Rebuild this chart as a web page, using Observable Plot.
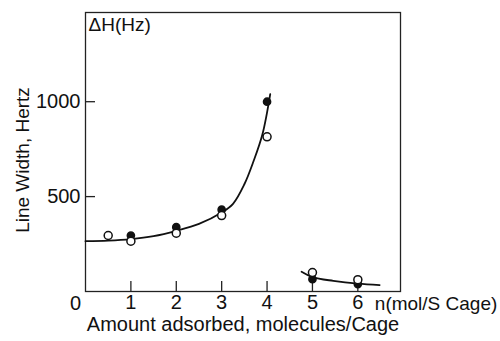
<!DOCTYPE html>
<html>
<head>
<meta charset="utf-8">
<script src="https://cdn.jsdelivr.net/npm/d3@7"></script>
<script src="https://cdn.jsdelivr.net/npm/@observablehq/plot@0.6"></script>
<style>
  html, body { margin: 0; padding: 0; background: #fff; }
  #chart svg { display: block; }
</style>
</head>
<body>
<div id="chart"></div>
<script>
// Open circles
const openX = [0.5, 1, 2, 3, 4, 5, 6];
const openY = [295, 265, 307, 400, 815, 100, 62];
// Filled circles
const filledX = [1, 2, 3, 4, 5, 6];
const filledY = [295, 339, 431, 1000, 65, 39];
// Hand-drawn fitted curves
const curve1X = [0, 0.5, 1, 1.5, 2, 2.5, 3, 3.25, 3.5, 3.7, 3.9, 4.07];
const curve1Y = [265, 268, 276, 292, 320, 356, 416, 462, 565, 685, 830, 1040];
const curve2X = [4.76, 5, 5.46, 6, 6.48];
const curve2Y = [104, 76, 56, 41, 34];
// Ticks
const xTicks = [1, 2, 3, 4, 5, 6];
const yTicks = [500, 1000];

const openData = openX.map((x, i) => ({x, y: openY[i]}));
const filledData = filledX.map((x, i) => ({x, y: filledY[i]}));
const c1 = curve1X.map((x, i) => ({x, y: curve1Y[i]}));
const c2 = curve2X.map((x, i) => ({x, y: curve2Y[i]}));

const font = "'Liberation Sans', Arial, sans-serif";

const chart = Plot.plot({
  width: 500,
  height: 341,
  marginLeft: 85,
  marginRight: 100,
  marginTop: 12,
  marginBottom: 50,
  style: {fontFamily: font, background: "#fff", color: "#111"},
  x: {domain: [0, 6.94], axis: null},
  y: {domain: [0, 1470], axis: null},
  marks: [
    Plot.frame({stroke: "#222", strokeWidth: 1.3}),
    Plot.tickX(xTicks, {x: d => d, insetTop: 269, stroke: "#222", strokeWidth: 1.3}),
    Plot.tickY(yTicks, {y: d => d, insetRight: 305, stroke: "#222", strokeWidth: 1.3}),
    Plot.axisX({ticks: xTicks, tickSize: 0, tickPadding: 3, fontSize: 20, anchor: "bottom", label: null, tickFormat: d => String(d)}),
    Plot.axisY({ticks: yTicks, tickSize: 0, tickPadding: 5, fontSize: 20, anchor: "left", label: null, tickFormat: d => String(d)}),
    Plot.text([0], {x: 0, y: 0, text: () => "0", dx: -10, dy: 12, fontSize: 20, textAnchor: "middle"}),
    Plot.text(["n(mol/S Cage)"], {x: 6, y: 0, text: d => d, dx: 17, dy: 12, fontSize: 19, textAnchor: "start"}),
    Plot.text(["ΔH(Hz)"], {frameAnchor: "top-left", text: d => d, dx: 3, dy: 5, fontSize: 19, textAnchor: "start"}),
    Plot.line(c1, {x: "x", y: "y", curve: "catmull-rom", stroke: "#111", strokeWidth: 1.8}),
    Plot.line(c2, {x: "x", y: "y", curve: "catmull-rom", stroke: "#111", strokeWidth: 1.8}),
    Plot.dot(filledData, {x: "x", y: "y", r: 3.6, fill: "#111", stroke: "#111"}),
    Plot.dot(openData, {x: "x", y: "y", r: 4, fill: "#fff", stroke: "#111", strokeWidth: 1.5}),
    Plot.text(["Amount adsorbed, molecules/Cage"], {frameAnchor: "bottom", text: d => d, dy: 39, fontSize: 20, textAnchor: "middle"}),
    Plot.text(["Line Width, Hertz"], {frameAnchor: "left", text: d => d, dx: -63, dy: 8, rotate: -90, fontSize: 19, textAnchor: "middle"})
  ]
});
document.getElementById("chart").appendChild(chart);
</script>
</body>
</html>
